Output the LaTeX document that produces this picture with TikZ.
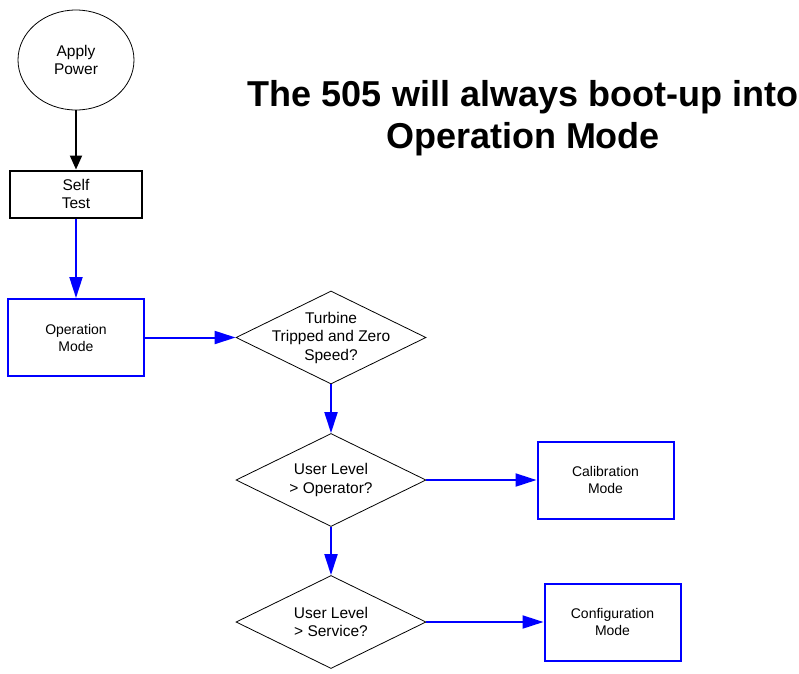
\documentclass[tikz,border=0pt]{standalone}
\usepackage{fontspec}
\setmainfont{Liberation Sans}
\usetikzlibrary{shapes.geometric,arrows.meta}
\definecolor{flowblue}{RGB}{0,0,255}
\tikzset{
  every node/.style={font=\fontsize{14}{16}\selectfont, align=center},
  oval/.style={ellipse, draw=black, line width=0.8pt, minimum width=116pt, minimum height=100pt, inner sep=0pt, font=\fontsize{15.5}{18.5}\selectfont},
  blackbox/.style={rectangle, draw=black, line width=2pt, minimum width=132pt, minimum height=47pt, inner sep=0pt, font=\fontsize{15.5}{18.5}\selectfont},
  bluebox/.style={rectangle, draw=flowblue, line width=2pt, minimum width=136pt, minimum height=77pt, inner sep=0pt, font=\fontsize{14}{17}\selectfont},
  decision/.style={diamond, draw=black, line width=0.8pt, minimum width=190pt, minimum height=93pt, inner sep=0pt},
  dtext/.style={font=\fontsize{15.5}{18.5}\selectfont, align=center},
  blackarrow/.style={draw=black, line width=2pt, -{Triangle[length=14pt,width=12pt]}},
  bluearrow/.style={draw=flowblue, line width=2pt, -{Triangle[length=21pt,width=13pt]}},
  title/.style={font=\fontsize{36}{42}\selectfont\bfseries, align=center}
}
\begin{document}
\begin{tikzpicture}[x=1pt,y=-1pt]
\useasboundingbox (0,0) rectangle (799,673);
\node[oval] (power) at (76,60) {Apply\\Power};
\node[blackbox] (self) at (76,194) {Self\\Test};
\node[bluebox] (op) at (76,337.5) {Operation\\Mode};
\node[decision, label={[dtext]center:Turbine\\Tripped and Zero\\Speed?}] (trip) at (331,337.5) {};
\node[decision, label={[dtext]center:User Level\\> Operator?}] (oper) at (331,480) {};
\node[bluebox] (cal) at (605.5,480) {Calibration\\Mode};
\node[decision, label={[dtext]center:User Level\\> Service?}] (serv) at (331,622) {};
\node[bluebox] (conf) at (612.5,622) {Configuration\\Mode};
\node[title] (head) at (523,118) {The 505 will always boot-up into\\Operation Mode};
\draw[blackarrow] (power) -- (self);
\draw[bluearrow] (self) -- (op);
\draw[bluearrow] (op) -- (trip);
\draw[bluearrow] (trip) -- (oper);
\draw[bluearrow] (oper) -- (cal);
\draw[bluearrow] (oper) -- (serv);
\draw[bluearrow] (serv) -- (conf);
\end{tikzpicture}
\end{document}
